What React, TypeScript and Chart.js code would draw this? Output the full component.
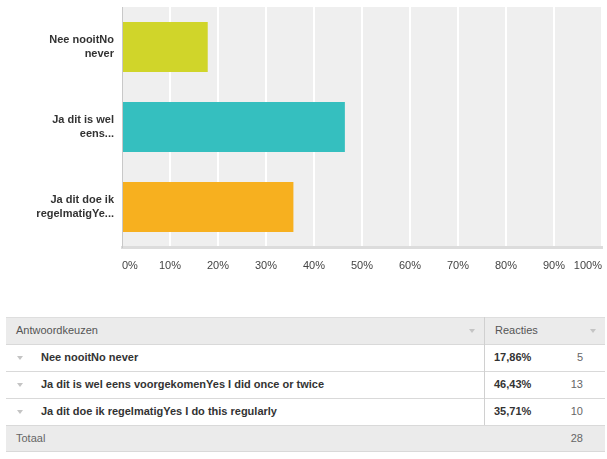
import React, { useEffect, useRef } from "react";
import { Chart, registerables } from "chart.js";

Chart.register(...registerables);

const categories = [
  "Nee nooitNo never",
  "Ja dit is wel eens voorgekomenYes I did once or twice",
  "Ja dit doe ik regelmatigYes I do this regularly",
];
const axisLabels: string[][] = [
  ["Nee nooitNo", "never"],
  ["Ja dit is wel", "eens..."],
  ["Ja dit doe ik", "regelmatigYe..."],
];
const percentages = [17.86, 46.43, 35.71];
const percentLabels = ["17,86%", "46,43%", "35,71%"];
const counts = [5, 13, 10];
const total = 28;
const barColors = ["#d0d52a", "#35bfbf", "#f7b01f"];
const headerLabels = ["Antwoordkeuzen", "Reacties"];
const totalLabel = "Totaal";

const FONT = "'Liberation Sans', Arial, Helvetica, sans-serif";

const bgPlugin = {
  id: "plotBg",
  beforeDraw(chart: any) {
    const { ctx, chartArea } = chart;
    if (!chartArea) return;
    ctx.save();
    ctx.fillStyle = "#efefef";
    ctx.fillRect(chartArea.left, chartArea.top, chartArea.right - chartArea.left, chartArea.bottom - chartArea.top);
    ctx.restore();
  },
};

const Arrow = ({ left, top }: { left: number; top: number }) => (
  <div
    style={{
      position: "absolute",
      left,
      top,
      width: 0,
      height: 0,
      borderLeft: "3.5px solid transparent",
      borderRight: "3.5px solid transparent",
      borderTop: "4px solid #c4c4c4",
    }}
  />
);

export default function App() {
  const ref = useRef<HTMLCanvasElement | null>(null);

  useEffect(() => {
    if (!ref.current) return;
    const chart = new Chart(ref.current, {
      type: "bar",
      data: {
        labels: axisLabels,
        datasets: [
          {
            data: percentages,
            backgroundColor: barColors,
            borderWidth: 0,
            barPercentage: 0.625,
            categoryPercentage: 1,
          },
        ],
      },
      options: {
        indexAxis: "y",
        animation: false,
        responsive: false,
        maintainAspectRatio: false,
        layout: { padding: { top: 7, right: 5, left: 0, bottom: 0 } },
        plugins: { legend: { display: false }, tooltip: { enabled: false } },
        scales: {
          x: {
            min: 0,
            max: 100,
            afterFit(scale: any) {
              scale.height = 53;
              scale.paddingLeft = 0;
              scale.paddingRight = 0;
            },
            grid: { color: "#ffffff", lineWidth: 2, drawTicks: false },
            border: { display: true, color: "#dcdcdc", width: 3 },
            ticks: {
              stepSize: 10,
              align: "inner",
              padding: 12,
              color: "#444444",
              font: { family: FONT, size: 11 },
              callback: (v: any) => v + "%",
            },
          },
          y: {
            afterFit(scale: any) {
              scale.width = 122;
              scale.paddingTop = 0;
              scale.paddingBottom = 0;
            },
            grid: { display: false, drawTicks: false },
            border: { display: true, color: "#c8c8c8", width: 1 },
            ticks: {
              padding: 8,
              color: "#333333",
              font: { family: FONT, size: 11, weight: "bold", lineHeight: 1.2 },
            },
          },
        },
      },
      plugins: [bgPlugin],
    } as any);
    return () => chart.destroy();
  }, []);

  const rowTop = 317;
  const rowH = 27;
  const left = 6;
  const right = 605;
  const divX = 484;

  const cellText: React.CSSProperties = {
    position: "absolute",
    fontFamily: FONT,
    fontSize: 11,
    lineHeight: rowH + "px",
    whiteSpace: "nowrap",
  };

  return (
    <div style={{ position: "absolute", left: 0, top: 0, width: 607, height: 459, background: "#fff", overflow: "hidden" }}>
      <canvas ref={ref} width={607} height={300} style={{ position: "absolute", left: 0, top: 0, width: 607, height: 300 }} />
      {/* header */}
      <div style={{ position: "absolute", left, top: rowTop, width: right - left, height: rowH, background: "#ebebeb", borderTop: "1px solid #dedede", boxSizing: "border-box" }} />
      <div style={{ ...cellText, left: 16, top: rowTop, color: "#555" }}>{headerLabels[0]}</div>
      <Arrow left={469} top={rowTop + 12} />
      <div style={{ ...cellText, left: 495, top: rowTop, color: "#555" }}>{headerLabels[1]}</div>
      <Arrow left={590} top={rowTop + 12} />
      {/* rows */}
      {categories.map((c, i) => {
        const t = rowTop + rowH * (i + 1);
        return (
          <React.Fragment key={c}>
            <div style={{ position: "absolute", left, top: t, width: right - left, height: 1, background: "#d9d9d9" }} />
            <Arrow left={17} top={t + 12} />
            <div style={{ ...cellText, left: 41, top: t, fontWeight: "bold", color: "#333" }}>{c}</div>
            <div style={{ ...cellText, left: 494, top: t, fontWeight: "bold", color: "#333" }}>{percentLabels[i]}</div>
            <div style={{ ...cellText, left: 540, width: 43, textAlign: "right", top: t, color: "#666" }}>{counts[i]}</div>
          </React.Fragment>
        );
      })}
      {/* column divider */}
      <div style={{ position: "absolute", left: divX, top: rowTop, width: 1, height: rowH * 4, background: "#d0d0d0" }} />
      {/* total */}
      <div style={{ position: "absolute", left, top: rowTop + rowH * 4, width: right - left, height: rowH, background: "#ebebeb", borderTop: "1px solid #d9d9d9", borderBottom: "1px solid #d9d9d9", boxSizing: "border-box" }} />
      <div style={{ ...cellText, left: 16, top: rowTop + rowH * 4, color: "#666" }}>{totalLabel}</div>
      <div style={{ ...cellText, left: 540, width: 43, textAlign: "right", top: rowTop + rowH * 4, color: "#666" }}>{total}</div>
    </div>
  );
}
